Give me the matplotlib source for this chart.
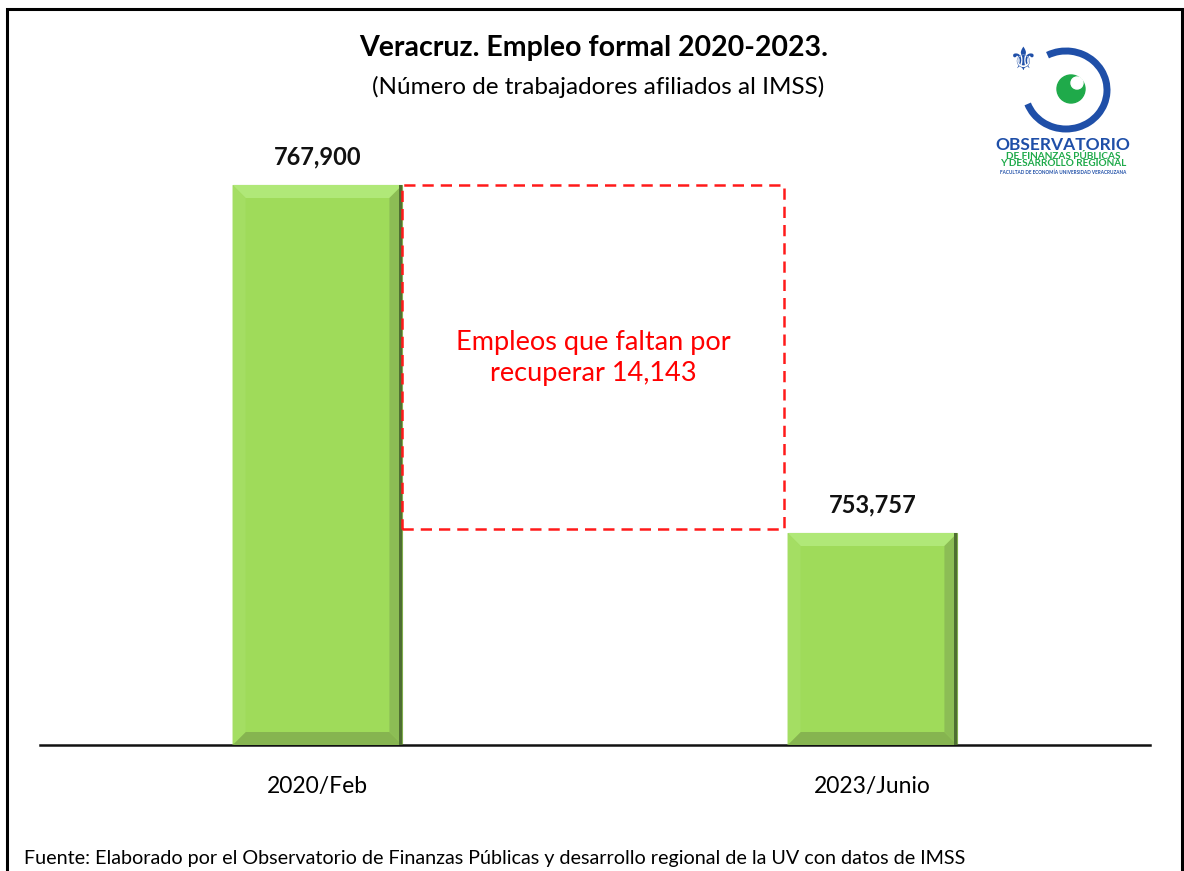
import numpy as np
import matplotlib
matplotlib.use('Agg')
import matplotlib.pyplot as plt
from matplotlib.patches import Rectangle, Polygon, Circle, Arc

plt.rcParams['font.family'] = ['Lato', 'DejaVu Sans']

# data
categories = ['2020/Feb', '2023/Junio']
values = [767900, 753757]
value_labels = ['767,900', '753,757']
gap_text = 'Empleos que faltan por\nrecuperar 14,143'
title = 'Veracruz. Empleo formal 2020-2023.'
subtitle = '(Número de trabajadores afiliados al IMSS)'
source = 'Fuente: Elaborado por el Observatorio de Finanzas Públicas y desarrollo regional de la UV con datos de IMSS'

W, H = 1184, 871
fig = plt.figure(figsize=(W / 100, H / 100), dpi=100)

# axes placed in pixel terms
ax_l, ax_r, ax_b, ax_t = 40, 1150, 745, 120
ax = fig.add_axes([ax_l / W, 1 - ax_b / H, (ax_r - ax_l) / W, (ax_b - ax_t) / H])

# scale: bar tops at y=185 and y=533 px
k = (533 - 185) / (values[0] - values[1])
base = values[1] - (ax_b - 533) / k
top = values[0] + (185 - ax_t) / k
ax.set_ylim(base, top)
ax.set_xlim(-0.5, 1.5)

x = np.arange(len(categories))
bw = 0.306
face = '#9fdb5a'
bars = ax.bar(x, np.array(values) - base, bottom=base, width=bw, color=face,
              edgecolor='#7aa548', linewidth=0.8, zorder=2)

# soft bevel on each bar
bx = 13 / ((ax_r - ax_l) / 2.0)   # px -> x data units
by = 13 / k                       # px -> y data units
for b in bars:
    x0, x1 = b.get_x(), b.get_x() + b.get_width()
    y0, y1 = b.get_y(), b.get_y() + b.get_height()
    ax.add_patch(Polygon([(x0, y1), (x1, y1), (x1 - bx, y1 - by), (x0 + bx, y1 - by)],
                         closed=True, color='#b0e878', lw=0, zorder=3))
    ax.add_patch(Polygon([(x0, y0), (x1, y0), (x1 - bx, y0 + by), (x0 + bx, y0 + by)],
                         closed=True, color='#86b450', lw=0, zorder=3))
    ax.add_patch(Polygon([(x0, y0), (x0, y1), (x0 + bx, y1 - by), (x0 + bx, y0 + by)],
                         closed=True, color='#a4de63', lw=0, zorder=3))
    ax.add_patch(Polygon([(x1, y0), (x1, y1), (x1 - bx, y1 - by), (x1 - bx, y0 + by)],
                         closed=True, color='#8cbd55', lw=0, zorder=3))
    ax.add_patch(Rectangle((x1 - bx * 0.3, y0), bx * 0.3, y1 - y0,
                           color='#4e6e32', lw=0, zorder=3))

for xi, v, lab in zip(x, values, value_labels):
    ax.annotate(lab, (xi, v), xytext=(0, 12), textcoords='offset points',
                ha='center', va='bottom', fontsize=17, fontweight='bold', color='#111111')

# dashed gap box
rx0 = x[0] + bw / 2
rx1 = x[1] - bw / 2 - 0.006
ax.add_patch(Rectangle((rx0, values[1] + 4 / k), rx1 - rx0, values[0] - values[1] - 4 / k,
                       fill=False, edgecolor='#ff1a1a', linestyle=(0, (4.5, 2.8)), lw=1.8, zorder=4))
ax.text((rx0 + rx1) / 2, values[0] - (358 - 185) / k, gap_text, ha='center', va='center',
        fontsize=19.5, color='#ff0000', linespacing=1.3)

for s in ['top', 'right', 'left']:
    ax.spines[s].set_visible(False)
ax.spines['bottom'].set_linewidth(1.8)
ax.spines['bottom'].set_color('#111111')
ax.set_yticks([])
ax.set_xticks(x)
ax.set_xticklabels(categories, fontsize=16.5)
ax.tick_params(axis='x', length=0, pad=22)
ax.patch.set_alpha(0)

# titles and source
fig.text(594 / W, 1 - 48 / H, title, ha='center', va='center', fontsize=20.5, fontweight='bold')
fig.text(598 / W, 1 - 87 / H, subtitle, ha='center', va='center', fontsize=17.5)
fig.text(24 / W, 1 - 858 / H, source, ha='left', va='center', fontsize=14.2)

# figure frame
fig.add_artist(Rectangle((7 / W, -0.05), (1182 - 7) / W, 1.05 - 9 / H, transform=fig.transFigure,
                         fill=False, edgecolor='black', lw=2.2))

# logo
lg = fig.add_axes([985 / W, 1 - 180 / H, 160 / W, 150 / H])
lg.set_xlim(0, 160)
lg.set_ylim(0, 150)
lg.axis('off')
lg.add_patch(Arc((81, 90), 82, 78, theta1=-160, theta2=118, lw=5, color='#1f4fa8'))
lg.add_patch(Circle((86, 91), 14, color='#1faa4a'))
lg.add_patch(Circle((92, 97), 6, color='white'))
lg.text(38, 118, '\u269c', family='DejaVu Sans', fontsize=23, color='#1f4fa8', ha='center', va='center')
lg.text(78, 35, 'OBSERVATORIO', fontsize=12.5, fontweight='bold', color='#1f4fa8', ha='center', va='center')
lg.text(78, 23.5, 'DE FINANZAS PÚBLICAS', fontsize=7.2, fontweight='bold', color='#1faa4a', ha='center', va='center')
lg.text(78, 16, 'Y DESARROLLO REGIONAL', fontsize=7.2, fontweight='bold', color='#1faa4a', ha='center', va='center')
lg.text(78, 8, 'FACULTAD DE ECONOMÍA UNIVERSIDAD VERACRUZANA', fontsize=3.3, fontweight='bold', color='#1f4fa8', ha='center', va='center')

fig.savefig('out.png', dpi=100)
